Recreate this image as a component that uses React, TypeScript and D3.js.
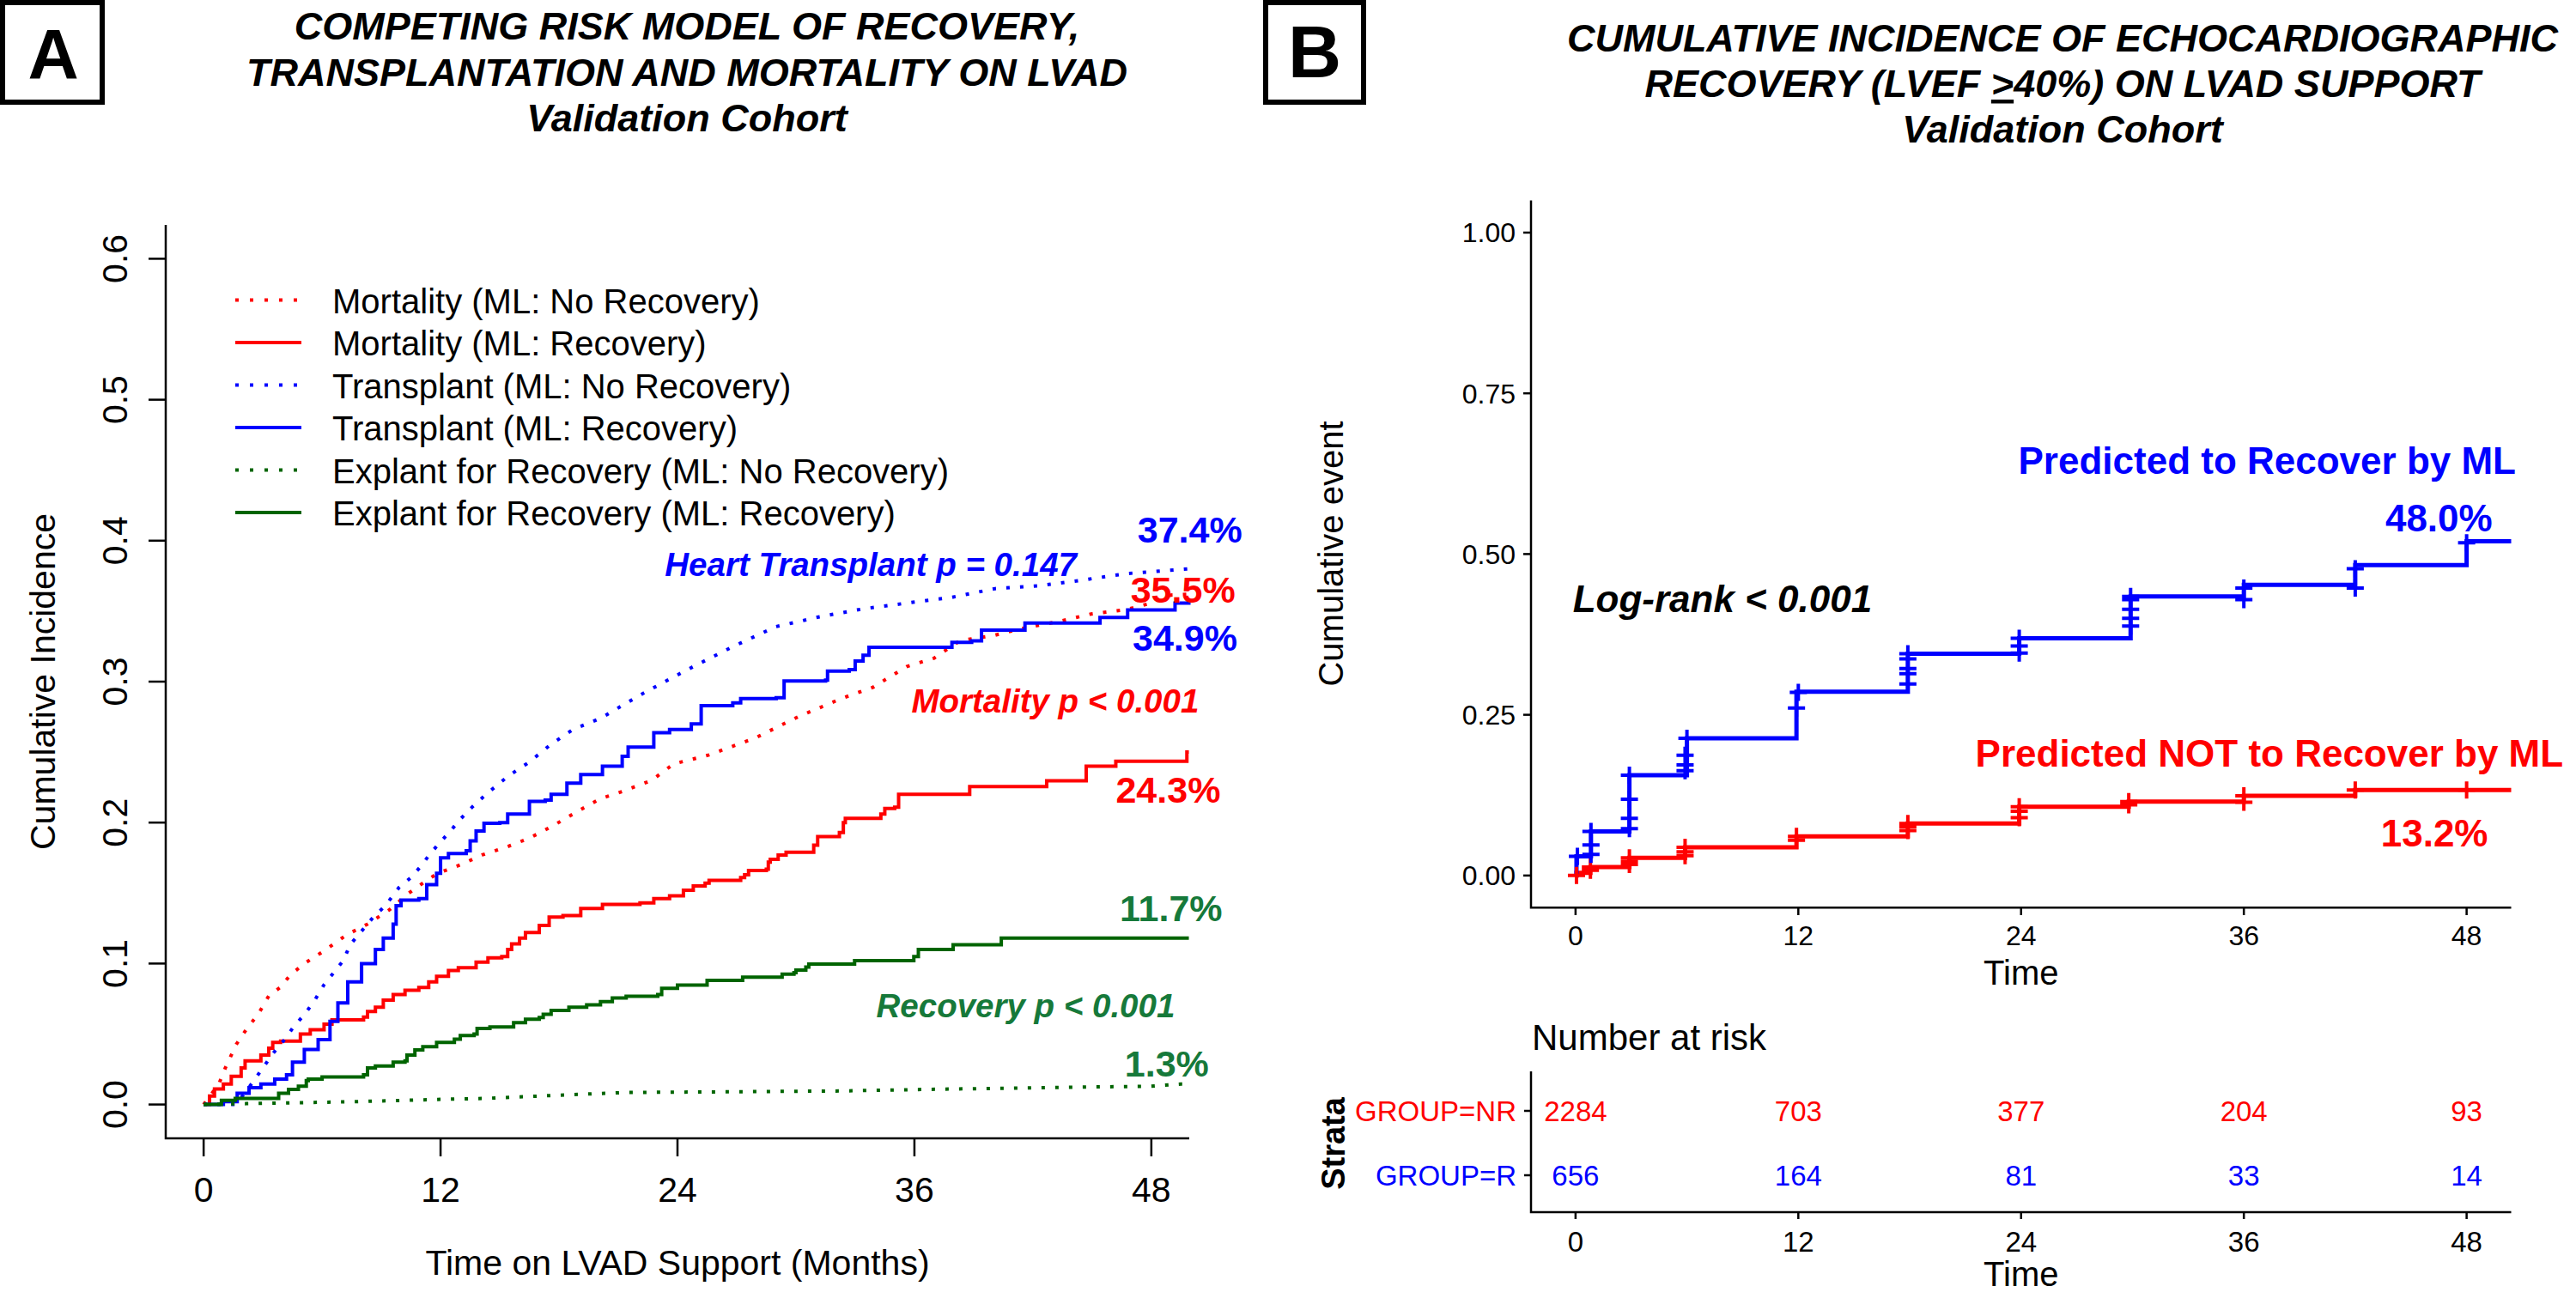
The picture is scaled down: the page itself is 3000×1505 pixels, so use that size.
import React from 'react';
import * as d3 from 'd3';

type Pt = [number, number];

// ---------- Panel A: competing risk, cumulative incidence by month ----------
// solid = ML: Recovery (step curves), dotted = ML: No Recovery
const mortalityNoRec: Pt[] = [
  [0, 0], [0.77, 0.0145], [1.1, 0.026], [1.65, 0.0426], [2.2, 0.054], [2.76, 0.064], [3.3, 0.077],
  [3.87, 0.083], [4.4, 0.092], [5.1, 0.1], [6.1, 0.109], [7.2, 0.12], [8.3, 0.128], [9.4, 0.138],
  [10.4, 0.15], [11.3, 0.159], [11.85, 0.164], [13, 0.17], [14.1, 0.177], [15.4, 0.183], [16.5, 0.189],
  [17.6, 0.197], [19.2, 0.21], [20.1, 0.217], [21.2, 0.222], [22.7, 0.23], [23.8, 0.2416], [25.6, 0.248],
  [27.9, 0.2598], [30.1, 0.275], [32.3, 0.288], [33.9, 0.296], [35.6, 0.3106], [37, 0.3167], [38.3, 0.329],
  [40.1, 0.333], [41.2, 0.337], [43.4, 0.343], [44.95, 0.348], [46.7, 0.351], [47.8, 0.355], [49, 0.3614],
  [49.9, 0.362],
];
const mortalityRec: Pt[] = [
  [0, 0], [0.3, 0.006], [0.55, 0.011], [1.0, 0.0145], [1.4, 0.02], [1.9, 0.026], [2.1, 0.031], [2.9, 0.035],
  [3.3, 0.04], [3.5, 0.044], [3.9, 0.045], [4.9, 0.05], [5.4, 0.053], [6.1, 0.057], [6.5, 0.06], [8.1, 0.062],
  [8.3, 0.066], [8.7, 0.069], [9.1, 0.074], [9.6, 0.078], [10.2, 0.081], [10.9, 0.083], [11.4, 0.087],
  [11.8, 0.091], [12.4, 0.095], [12.9, 0.097], [13.8, 0.101], [14.4, 0.104], [15.1, 0.105], [15.4, 0.11],
  [15.6, 0.114], [16.0, 0.118], [16.3, 0.122], [17.0, 0.127], [17.5, 0.133], [18.2, 0.134], [19.1, 0.139],
  [20.2, 0.142], [22.1, 0.143], [22.8, 0.146], [23.6, 0.148], [24.3, 0.152], [24.8, 0.155], [25.4, 0.157],
  [25.6, 0.159], [27.2, 0.161], [27.4, 0.163], [27.6, 0.166], [28.5, 0.167], [28.6, 0.172], [28.7, 0.174],
  [29.1, 0.177], [29.5, 0.179], [30.9, 0.184], [31.1, 0.19], [32.2, 0.193], [32.4, 0.2], [32.5, 0.203],
  [34.3, 0.206], [34.5, 0.21], [35.0, 0.211], [35.2, 0.22], [38.8, 0.2256], [42.7, 0.2296], [44.7, 0.24],
  [46.2, 0.2435], [49.8, 0.25], [49.9, 0.25],
];
const transplantNoRec: Pt[] = [
  [0, 0], [1.65, 0.0], [2.5, 0.016], [3.0, 0.026], [3.5, 0.036], [4.1, 0.046], [4.5, 0.054], [5.2, 0.0656],
  [5.65, 0.0745], [6.1, 0.085], [6.5, 0.092], [7.1, 0.1026], [7.4, 0.113], [8.0, 0.123], [8.6, 0.133],
  [9.2, 0.141], [9.9, 0.154], [10.5, 0.161], [11, 0.169], [11.4, 0.1765], [11.85, 0.184], [12.5, 0.194],
  [12.97, 0.202], [13.6, 0.211], [14.3, 0.22], [15.4, 0.2327], [16.5, 0.243], [17.6, 0.2556], [18.7, 0.266],
  [20.1, 0.274], [22.3, 0.292], [24.5, 0.3085], [26.8, 0.3248], [28.98, 0.339], [31.2, 0.346], [33.4, 0.3516],
  [35.6, 0.3557], [37.85, 0.3597], [40.1, 0.366], [42.3, 0.368], [44.5, 0.372], [46.7, 0.3766], [49.6, 0.3797],
  [49.9, 0.38],
];
const transplantRec: Pt[] = [
  [0, 0], [1.0, 0.002], [1.7, 0.008], [2.3, 0.012], [2.9, 0.0145], [3.6, 0.018], [4.2, 0.021], [4.5, 0.03],
  [5.1, 0.039], [5.8, 0.046], [6.4, 0.059], [6.8, 0.072], [7.3, 0.087], [8.0, 0.1], [8.7, 0.11], [9.1, 0.118],
  [9.6, 0.128], [9.75, 0.141], [10.0, 0.145], [10.9, 0.146], [11.3, 0.156], [11.8, 0.164], [12.0, 0.175],
  [12.4, 0.178], [13.3, 0.18], [13.5, 0.187], [13.8, 0.194], [14.2, 0.1995], [15.0, 0.2], [15.4, 0.206],
  [16.5, 0.215], [17.3, 0.216], [17.6, 0.22], [18.4, 0.228], [19.1, 0.234], [20.2, 0.24], [21.2, 0.247],
  [21.5, 0.2535], [22.8, 0.2638], [23.6, 0.266], [24.7, 0.27], [25.2, 0.283], [26.8, 0.285], [27.2, 0.288],
  [29.0, 0.2886], [29.4, 0.3004], [31.5, 0.301], [31.6, 0.3075], [32.7, 0.3085], [33.0, 0.3146], [33.4, 0.3187],
  [33.7, 0.3244], [37.9, 0.3278], [38.9, 0.329], [39.4, 0.3366], [41.6, 0.3415], [45.4, 0.3455], [46.8, 0.3508],
  [49.2, 0.3557], [49.9, 0.3563],
];
const explantNoRec: Pt[] = [
  [0, 0], [2.15, 0.0006], [3, 0.0008], [7.6, 0.002], [11.85, 0.0036], [14.2, 0.0043], [18.5, 0.0069],
  [21.3, 0.0085], [24.3, 0.0088], [32.3, 0.0096], [36.1, 0.0106], [42.2, 0.0119], [48, 0.013], [49.5, 0.0145],
  [49.9, 0.0145],
];
const explantRec: Pt[] = [
  [0, 0], [0.9, 0.003], [1.6, 0.0043], [3.8, 0.008], [4.3, 0.0107], [4.8, 0.013], [5.2, 0.017], [5.3, 0.018],
  [6.0, 0.0196], [8.1, 0.021], [8.3, 0.026], [8.7, 0.0273], [9.6, 0.03], [10.2, 0.031], [10.3, 0.035],
  [10.7, 0.0388], [11.1, 0.041], [11.8, 0.044], [12.7, 0.0464], [13.0, 0.049], [13.7, 0.05], [13.85, 0.054],
  [14.5, 0.055], [15.7, 0.058], [16.3, 0.0605], [17.0, 0.0617], [17.2, 0.064], [17.6, 0.0668], [18.5, 0.069],
  [19.4, 0.0707], [20.1, 0.073], [20.7, 0.0756], [21.4, 0.0768], [23.0, 0.078], [23.2, 0.0825], [24.0, 0.0847],
  [25.5, 0.088], [27.3, 0.0904], [29.3, 0.0924], [29.9, 0.0936], [30.0, 0.0954], [30.5, 0.0975], [30.65, 0.0996],
  [32.97, 0.102], [35.97, 0.105], [36.2, 0.11], [37.96, 0.1133], [40.4, 0.118], [49.9, 0.118],
];

const legendLabels = [
  'Mortality (ML: No Recovery)',
  'Mortality (ML: Recovery)',
  'Transplant (ML: No Recovery)',
  'Transplant (ML: Recovery)',
  'Explant for Recovery (ML: No Recovery)',
  'Explant for Recovery (ML: Recovery)',
];
const xTicksA = [0, 12, 24, 36, 48];
const yTicksA = [0, 0.1, 0.2, 0.3, 0.4, 0.5, 0.6];

// ---------- Panel B: Kaplan-Meier cumulative event ----------
const kmRecover: Pt[] = [
  [0, 0], [0.05, 0.03], [0.83, 0.0686], [2.9, 0.156], [6.0, 0.2136], [11.9, 0.286], [17.9, 0.345],
  [23.9, 0.369], [29.9, 0.434], [36.0, 0.452], [42.0, 0.483], [48.0, 0.52], [50.4, 0.52],
];
const kmNoRecover: Pt[] = [
  [0, 0], [0.05, 0.004], [0.8, 0.013], [2.9, 0.0275], [5.9, 0.044], [11.9, 0.061], [17.9, 0.081],
  [23.9, 0.107], [29.8, 0.115], [36.0, 0.124], [42.0, 0.133], [50.4, 0.133],
];
const censorRecover: Pt[] = [
  [0.1, 0.03], [0.83, 0.033], [0.83, 0.0475], [0.83, 0.0686], [2.9, 0.073], [2.9, 0.089], [2.9, 0.1185],
  [2.9, 0.156], [5.9, 0.163], [5.9, 0.172], [5.9, 0.187], [6.0, 0.2136], [11.9, 0.2605], [12.0, 0.285],
  [17.9, 0.298], [17.9, 0.314], [17.9, 0.322], [17.9, 0.337], [17.9, 0.345], [23.9, 0.346], [23.9, 0.357],
  [23.9, 0.369], [29.9, 0.388], [29.9, 0.4], [29.9, 0.414], [29.9, 0.429], [29.9, 0.434], [36, 0.429],
  [36, 0.447], [42, 0.447], [42, 0.477], [48, 0.5176],
];
const censorNoRecover: Pt[] = [
  [0.05, 0.0], [0.8, 0.008], [0.8, 0.013], [2.9, 0.017], [2.9, 0.022], [2.9, 0.0275], [5.9, 0.031],
  [5.9, 0.037], [5.9, 0.044], [11.9, 0.055], [11.9, 0.061], [17.9, 0.07], [17.9, 0.076], [17.9, 0.081],
  [23.9, 0.09], [23.9, 0.1], [23.9, 0.107], [29.8, 0.11], [29.8, 0.115], [36, 0.114], [36, 0.124],
  [42, 0.133], [48, 0.133],
];
const xTicksB = [0, 12, 24, 36, 48];
const yTicksB = [0, 0.25, 0.5, 0.75, 1.0];
const strata = ['GROUP=NR', 'GROUP=R'];
const riskNR = [2284, 703, 377, 204, 93];
const riskR = [656, 164, 81, 33, 14];

const RED = '#ff0000';
const BLUE = '#0000ff';
const DKGREEN = '#006400';
const TXTGREEN = '#16793a';
const FONT = "'Liberation Sans', Arial, Helvetica, sans-serif";

const App: React.FC = () => {
  // panel A scales (R base graphics, 4% axis extension)
  const xA = d3.scaleLinear().domain([-1.92, 49.92]).range([193, 1385]);
  const yA = d3.scaleLinear().domain([-0.024, 0.624]).range([1326, 262]);
  // panel B scales (ggplot 5% expansion)
  const xB = d3.scaleLinear().domain([-2.4, 50.4]).range([1783, 2924.5]);
  const yB = d3.scaleLinear().domain([-0.05, 1.05]).range([1057.3, 233.5]);
  const yRisk = d3.scalePoint<string>().domain(strata).range([1294, 1369]);

  const stepA = d3.line<Pt>().x(d => xA(d[0])).y(d => yA(d[1])).curve(d3.curveStepAfter);
  const smoothA = d3.line<Pt>().x(d => xA(d[0])).y(d => yA(d[1]));
  const stepB = d3.line<Pt>().x(d => xB(d[0])).y(d => yB(d[1])).curve(d3.curveStepAfter);

  const seriesA = [
    { data: mortalityNoRec, color: RED, dotted: true },
    { data: mortalityRec, color: RED, dotted: false },
    { data: transplantNoRec, color: BLUE, dotted: true },
    { data: transplantRec, color: BLUE, dotted: false },
    { data: explantNoRec, color: DKGREEN, dotted: true },
    { data: explantRec, color: DKGREEN, dotted: false },
  ];

  const cross = (p: Pt) => {
    const x = xB(p[0]);
    const y = yB(p[1]);
    return `M${x - 10},${y}H${x + 10}M${x},${y - 10}V${y + 10}`;
  };

  const fmtA = d3.format('.1f');
  const fmtB = d3.format('.2f');

  return (
    <svg
      width={3000}
      height={1505}
      style={{ position: 'absolute', left: 0, top: 0, display: 'block', background: '#fff' }}
      fontFamily={FONT}
    >
      <rect x={0} y={0} width={3000} height={1505} fill="#fff" />

      {/* ---------------- Panel A ---------------- */}
      <rect x={3} y={3} width={116} height={116} fill="none" stroke="#000" strokeWidth={6} />
      <text x={62} y={91} textAnchor="middle" fontSize={82} fontWeight="bold">A</text>

      <g fontWeight="bold" fontStyle="italic" fontSize={45} textAnchor="middle">
        <text x={800} y={46}>COMPETING RISK MODEL OF RECOVERY,</text>
        <text x={800} y={100}>TRANSPLANTATION AND MORTALITY ON LVAD</text>
        <text x={800} y={153}>Validation Cohort</text>
      </g>

      {/* axes */}
      <path d={`M${xA(-1.92)},${yA(0.624)}V${yA(-0.024)}H${xA(49.92)}`} fill="none" stroke="#000" strokeWidth={2.5} />
      {yTicksA.map(v => (
        <g key={`ya${v}`}>
          <line x1={173} x2={193} y1={yA(v)} y2={yA(v)} stroke="#000" strokeWidth={2.5} />
          <text transform={`translate(148,${yA(v)}) rotate(-90)`} textAnchor="middle" fontSize={41}>{fmtA(v)}</text>
        </g>
      ))}
      {xTicksA.map(t => (
        <g key={`xa${t}`}>
          <line x1={xA(t)} x2={xA(t)} y1={1326} y2={1347} stroke="#000" strokeWidth={2.5} />
          <text x={xA(t)} y={1400} textAnchor="middle" fontSize={41}>{t}</text>
        </g>
      ))}
      <text transform={`translate(64,794) rotate(-90)`} textAnchor="middle" fontSize={41}>Cumulative Incidence</text>
      <text x={789} y={1485} textAnchor="middle" fontSize={41}>Time on LVAD Support (Months)</text>

      {/* curves */}
      {seriesA.map((s, i) => (
        <path
          key={`sa${i}`}
          d={(s.dotted ? smoothA(s.data) : stepA(s.data)) || ''}
          fill="none"
          stroke={s.color}
          strokeWidth={4}
          strokeDasharray={s.dotted ? '4 12' : undefined}
        />
      ))}

      {/* legend */}
      {legendLabels.map((lab, i) => {
        const y = 349.6 + i * 49.5;
        const s = seriesA[i];
        return (
          <g key={`lg${i}`}>
            <line x1={274} x2={351} y1={y} y2={y} stroke={s.color} strokeWidth={4}
              strokeDasharray={s.dotted ? '4 13' : undefined} />
            <text x={387} y={y + 15} fontSize={40}>{lab}</text>
          </g>
        );
      })}

      {/* annotations */}
      <g fontWeight="bold">
        <text x={xA(47.3)} y={yA(0.3987)} fontSize={43} fill={BLUE}>37.4%</text>
        <text x={xA(46.95)} y={yA(0.356)} fontSize={43} fill={RED}>35.5%</text>
        <text x={xA(47.05)} y={yA(0.322)} fontSize={43} fill={BLUE}>34.9%</text>
        <text x={xA(46.2)} y={yA(0.214)} fontSize={43} fill={RED}>24.3%</text>
        <text x={xA(46.4)} y={yA(0.13)} fontSize={43} fill={TXTGREEN}>11.7%</text>
        <text x={xA(46.65)} y={yA(0.0199)} fontSize={43} fill={TXTGREEN}>1.3%</text>
        <g fontStyle="italic" fontSize={38.5}>
          <text x={xA(23.36)} y={yA(0.3749)} fill={BLUE}>Heart Transplant p = 0.147</text>
          <text x={xA(35.85)} y={yA(0.278)} fill={RED}>Mortality p &lt; 0.001</text>
          <text x={xA(34.07)} y={yA(0.0619)} fill={TXTGREEN}>Recovery p &lt; 0.001</text>
        </g>
      </g>

      {/* ---------------- Panel B ---------------- */}
      <rect x={1474} y={3} width={114} height={116} fill="none" stroke="#000" strokeWidth={6} />
      <text x={1531} y={90} textAnchor="middle" fontSize={86} fontWeight="bold">B</text>

      <g fontWeight="bold" fontStyle="italic" fontSize={45} textAnchor="middle">
        <text x={2402} y={60}>CUMULATIVE INCIDENCE OF ECHOCARDIOGRAPHIC</text>
        <text x={2402} y={113}>
          RECOVERY (LVEF <tspan style={{ textDecoration: 'underline' }}>&gt;</tspan>40%) ON LVAD SUPPORT
        </text>
        <text x={2402} y={166}>Validation Cohort</text>
      </g>

      {/* axes */}
      <path d={`M${xB(-2.4)},${yB(1.05)}V${yB(-0.05)}H${xB(50.4)}`} fill="none" stroke="#000" strokeWidth={2.5} />
      {yTicksB.map(v => (
        <g key={`yb${v}`}>
          <line x1={1774} x2={1783} y1={yB(v)} y2={yB(v)} stroke="#000" strokeWidth={2.5} />
          <text x={1765} y={yB(v) + 11.5} textAnchor="end" fontSize={32}>{fmtB(v)}</text>
        </g>
      ))}
      {xTicksB.map(t => (
        <g key={`xb${t}`}>
          <line x1={xB(t)} x2={xB(t)} y1={1057.3} y2={1066} stroke="#000" strokeWidth={2.5} />
          <text x={xB(t)} y={1101} textAnchor="middle" fontSize={32}>{t}</text>
        </g>
      ))}
      <text transform={`translate(1564,645) rotate(-90)`} textAnchor="middle" fontSize={40}>Cumulative event</text>
      <text x={xB(24)} y={1147} textAnchor="middle" fontSize={40}>Time</text>

      {/* KM curves */}
      <path d={stepB(kmNoRecover) || ''} fill="none" stroke={RED} strokeWidth={5} />
      <path d={stepB(kmRecover) || ''} fill="none" stroke={BLUE} strokeWidth={5} />
      <path d={censorNoRecover.map(cross).join('')} fill="none" stroke={RED} strokeWidth={4} />
      <path d={censorRecover.map(cross).join('')} fill="none" stroke={BLUE} strokeWidth={4} />

      <g fontWeight="bold" fontSize={44}>
        <text x={xB(23.85)} y={yB(0.6248)} fill={BLUE}>Predicted to Recover by ML</text>
        <text x={xB(43.62)} y={yB(0.5358)} fill={BLUE}>48.0%</text>
        <text x={xB(21.54)} y={yB(0.1694)} fill={RED}>Predicted NOT to Recover by ML</text>
        <text x={xB(43.38)} y={yB(0.0453)} fill={RED}>13.2%</text>
        <text x={xB(-0.15)} y={yB(0.4098)} fontStyle="italic" fill="#000">Log-rank &lt; 0.001</text>
      </g>

      {/* risk table */}
      <text x={1784} y={1223} fontSize={42}>Number at risk</text>
      <path d={`M${xB(-2.4)},1248V1412H${xB(50.4)}`} fill="none" stroke="#000" strokeWidth={2.5} />
      {strata.map((s, i) => {
        const y = yRisk(s) as number;
        const col = i === 0 ? RED : BLUE;
        const vals = i === 0 ? riskNR : riskR;
        return (
          <g key={s}>
            <line x1={1775} x2={1784} y1={y} y2={y} stroke="#000" strokeWidth={2.5} />
            <text x={1766} y={y + 12} textAnchor="end" fontSize={33} fill={col}>{s}</text>
            {vals.map((n, j) => (
              <text key={j} x={xB(xTicksB[j])} y={y + 12} textAnchor="middle" fontSize={33} fill={col}>{n}</text>
            ))}
          </g>
        );
      })}
      {xTicksB.map(t => (
        <g key={`xr${t}`}>
          <line x1={xB(t)} x2={xB(t)} y1={1412} y2={1420} stroke="#000" strokeWidth={2.5} />
          <text x={xB(t)} y={1458} textAnchor="middle" fontSize={33}>{t}</text>
        </g>
      ))}
      <text x={xB(24)} y={1498} textAnchor="middle" fontSize={40}>Time</text>
      <text transform={`translate(1566,1332) rotate(-90)`} textAnchor="middle" fontSize={38} fontWeight="bold">Strata</text>
    </svg>
  );
};

export default App;
